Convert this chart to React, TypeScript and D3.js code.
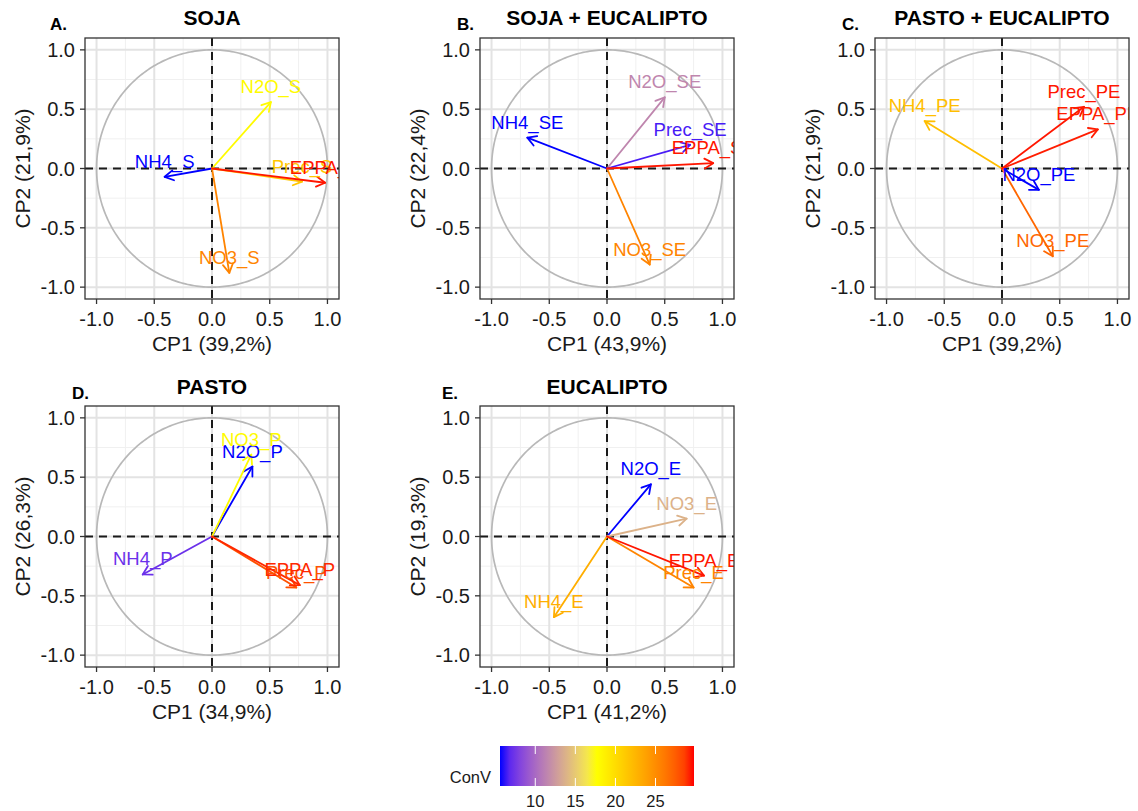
import * as d3 from "d3";

// ConV colour bar
const CONV_DOMAIN = [5.6, 29.8];
const CONV_TICKS = [10, 15, 20, 25];

const TITLES = ["SOJA", "SOJA + EUCALIPTO", "PASTO + EUCALIPTO", "PASTO", "EUCALIPTO"];
const LETTERS = ["A.", "B.", "C.", "D.", "E."];
const CP1_LABELS = ["CP1 (39,2%)", "CP1 (43,9%)", "CP1 (39,2%)", "CP1 (34,9%)", "CP1 (41,2%)"];
const CP2_LABELS = ["CP2 (21,9%)", "CP2 (22,4%)", "CP2 (21,9%)", "CP2 (26,3%)", "CP2 (19,3%)"];
const AXIS_TICKS = [-1, -0.5, 0, 0.5, 1];
const MINOR_TICKS = [-0.75, -0.25, 0.25, 0.75];

// A. soja
const SOJA_VARS = ["N2O_S", "NH4_S", "NO3_S", "Prec_S", "EPPA_S"];
const SOJA_CP1 = [0.51, -0.41, 0.15, 0.78, 0.98];
const SOJA_CP2 = [0.56, -0.07, -0.88, -0.11, -0.12];
const SOJA_CONV = [18.0, 5.6, 25.5, 21.5, 29.6];

// B. soja + eucalipto
const SE_VARS = ["N2O_SE", "NH4_SE", "NO3_SE", "Prec_SE", "EPPA_SE"];
const SE_CP1 = [0.5, -0.69, 0.37, 0.72, 0.92];
const SE_CP2 = [0.6, 0.26, -0.81, 0.2, 0.045];
const SE_CONV = [11.5, 5.6, 25.5, 6.3, 29.6];

// C. pasto + eucalipto
const PE_VARS = ["N2O_PE", "NH4_PE", "NO3_PE", "Prec_PE", "EPPA_PE"];
const PE_CP1 = [0.32, -0.67, 0.44, 0.71, 0.83];
const PE_CP2 = [-0.18, 0.4, -0.74, 0.52, 0.33];
const PE_CONV = [5.6, 22.0, 27.0, 29.6, 29.5];

// D. pasto
const P_VARS = ["N2O_P", "NH4_P", "NO3_P", "Prec_P", "EPPA_P"];
const P_CP1 = [0.35, -0.6, 0.34, 0.73, 0.76];
const P_CP2 = [0.59, -0.32, 0.69, -0.43, -0.41];
const P_CONV = [5.6, 7.2, 18.0, 28.0, 29.3];

// E. eucalipto
const E_VARS = ["N2O_E", "NH4_E", "NO3_E", "Prec_E", "EPPA_E"];
const E_CP1 = [0.38, -0.46, 0.69, 0.75, 0.84];
const E_CP2 = [0.44, -0.68, 0.15, -0.43, -0.33];
const E_CONV = [5.6, 23.0, 13.8, 25.5, 29.6];

const PANEL_DATA = [
  [SOJA_VARS, SOJA_CP1, SOJA_CP2, SOJA_CONV],
  [SE_VARS, SE_CP1, SE_CP2, SE_CONV],
  [PE_VARS, PE_CP1, PE_CP2, PE_CONV],
  [P_VARS, P_CP1, P_CP2, P_CONV],
  [E_VARS, E_CP1, E_CP2, E_CONV],
] as [string[], number[], number[], number[]][];

// layout of each panel (plot area + letter position)
const LAYOUT = [
  { left: 85, top: 38, letterX: 50, titleY: 25, letterY: 30 },
  { left: 480, top: 38, letterX: 457, titleY: 25, letterY: 30 },
  { left: 875, top: 38, letterX: 842, titleY: 25, letterY: 30 },
  { left: 85, top: 406, letterX: 72, titleY: 394, letterY: 399 },
  { left: 480, top: 406, letterX: 442, titleY: 394, letterY: 399 },
];
const PW = 254;
const PH = 261;
const FONT = "'Liberation Sans', Arial, Helvetica, sans-serif";

const colorScale = d3
  .scaleLinear<string>()
  .domain([CONV_DOMAIN[0], (CONV_DOMAIN[0] + CONV_DOMAIN[1]) / 2, CONV_DOMAIN[1]])
  .range(["#0000ff", "#ffff00", "#ff0000"])
  .interpolate(d3.interpolateLab);

const fmt = (t: number) => d3.format(".1f")(t).replace("−", "-");

function arrowHead(x1: number, y1: number, x2: number, y2: number, len = 10) {
  const a = Math.atan2(y2 - y1, x2 - x1);
  const spread = Math.PI / 6;
  const p1 = [x2 - len * Math.cos(a - spread), y2 - len * Math.sin(a - spread)];
  const p2 = [x2 - len * Math.cos(a + spread), y2 - len * Math.sin(a + spread)];
  return `M${p1[0]},${p1[1]}L${x2},${y2}L${p2[0]},${p2[1]}`;
}

function Panel({ i }: { i: number }) {
  const lay = LAYOUT[i];
  const [vars, cp1, cp2, conv] = PANEL_DATA[i];
  const x = d3.scaleLinear().domain([-1.1, 1.1]).range([lay.left, lay.left + PW]);
  const y = d3.scaleLinear().domain([-1.1, 1.1]).range([lay.top + PH, lay.top]);
  const circle = d3
    .line<number>()
    .x((t) => x(Math.cos(t)))
    .y((t) => y(Math.sin(t)))(d3.range(0, 2 * Math.PI + 0.02, 0.02));
  const clipId = `clip-${i}`;
  const cx = x(0);
  const cy = y(0);

  return (
    <g fontFamily={FONT}>
      <defs>
        <clipPath id={clipId}>
          <rect x={lay.left} y={lay.top} width={PW} height={PH} />
        </clipPath>
      </defs>
      <rect x={lay.left} y={lay.top} width={PW} height={PH} fill="#ffffff" />
      {MINOR_TICKS.map((t) => (
        <g key={`mn${t}`} stroke="#f0f0f0" strokeWidth={1}>
          <line x1={x(t)} x2={x(t)} y1={lay.top} y2={lay.top + PH} />
          <line x1={lay.left} x2={lay.left + PW} y1={y(t)} y2={y(t)} />
        </g>
      ))}
      {AXIS_TICKS.map((t) => (
        <g key={`mj${t}`} stroke="#e3e3e3" strokeWidth={2}>
          <line x1={x(t)} x2={x(t)} y1={lay.top} y2={lay.top + PH} />
          <line x1={lay.left} x2={lay.left + PW} y1={y(t)} y2={y(t)} />
        </g>
      ))}
      <g clipPath={`url(#${clipId})`}>
        <path d={circle ?? ""} fill="none" stroke="#b8b8b8" strokeWidth={1.7} />
        <line x1={lay.left} x2={lay.left + PW} y1={cy} y2={cy} stroke="#1a1a1a" strokeWidth={2} strokeDasharray="8,6" />
        <line x1={cx} x2={cx} y1={lay.top} y2={lay.top + PH} stroke="#1a1a1a" strokeWidth={2} strokeDasharray="8,6" />
        {vars.map((v, k) => {
          const tx = x(cp1[k]);
          const ty = y(cp2[k]);
          const c = colorScale(conv[k]);
          return (
            <g key={`a${v}`} stroke={c} strokeWidth={1.8} fill="none" strokeLinecap="round" strokeLinejoin="round">
              <line x1={cx} y1={cy} x2={tx} y2={ty} />
              <path d={arrowHead(cx, cy, tx, ty)} />
            </g>
          );
        })}
        {vars.map((v, k) => (
          <text
            key={`l${v}`}
            x={x(cp1[k])}
            y={y(cp2[k]) - 9}
            textAnchor="middle"
            fontSize={18.5}
            fill={colorScale(conv[k])}
          >
            {v}
          </text>
        ))}
      </g>
      <rect x={lay.left} y={lay.top} width={PW} height={PH} fill="none" stroke="#333333" strokeWidth={1.3} />
      {AXIS_TICKS.map((t) => (
        <g key={`tk${t}`}>
          <line x1={x(t)} x2={x(t)} y1={lay.top + PH} y2={lay.top + PH + 5} stroke="#333333" strokeWidth={1.3} />
          <text x={x(t)} y={lay.top + PH + 27} textAnchor="middle" fontSize={20} fill="#1a1a1a">
            {fmt(t)}
          </text>
          <line x1={lay.left - 5} x2={lay.left} y1={y(t)} y2={y(t)} stroke="#333333" strokeWidth={1.3} />
          <text x={lay.left - 10} y={y(t) + 7} textAnchor="end" fontSize={20} fill="#1a1a1a">
            {fmt(t)}
          </text>
        </g>
      ))}
      <text x={x(0)} y={lay.top + PH + 52} textAnchor="middle" fontSize={21} fill="#1a1a1a">
        {CP1_LABELS[i]}
      </text>
      <text
        transform={`translate(${lay.left - 55},${y(0)}) rotate(-90)`}
        textAnchor="middle"
        fontSize={21}
        fill="#1a1a1a"
      >
        {CP2_LABELS[i]}
      </text>
      <text x={x(0)} y={lay.titleY} textAnchor="middle" fontSize={21} fontWeight="bold" fill="#000">
        {TITLES[i]}
      </text>
      <text x={lay.letterX} y={lay.letterY} fontSize={17} fontWeight="bold" fill="#000">
        {LETTERS[i]}
      </text>
    </g>
  );
}

function Legend() {
  const bx = d3.scaleLinear().domain(CONV_DOMAIN).range([500, 694]);
  const top = 746;
  const h = 40;
  const stops = d3.range(0, 1.0001, 0.05);
  return (
    <g fontFamily={FONT}>
      <defs>
        <linearGradient id="conv-grad" x1="0" x2="1" y1="0" y2="0">
          {stops.map((s) => (
            <stop
              key={s}
              offset={`${s * 100}%`}
              stopColor={colorScale(CONV_DOMAIN[0] + s * (CONV_DOMAIN[1] - CONV_DOMAIN[0]))}
            />
          ))}
        </linearGradient>
      </defs>
      <rect x={bx(CONV_DOMAIN[0])} y={top} width={bx(CONV_DOMAIN[1]) - bx(CONV_DOMAIN[0])} height={h} fill="url(#conv-grad)" />
      {CONV_TICKS.map((t) => (
        <g key={t}>
          <line x1={bx(t)} x2={bx(t)} y1={top} y2={top + 8} stroke="#ffffff" strokeWidth={1} />
          <line x1={bx(t)} x2={bx(t)} y1={top + h - 8} y2={top + h} stroke="#ffffff" strokeWidth={1} />
          <text x={bx(t)} y={top + h + 21} textAnchor="middle" fontSize={16.5} fill="#1a1a1a">
            {t}
          </text>
        </g>
      ))}
      <text x={491} y={top + h - 3} textAnchor="end" fontSize={16.5} fill="#1a1a1a">
        ConV
      </text>
    </g>
  );
}

export default function App() {
  return (
    <svg
      width={1138}
      height={811}
      viewBox="0 0 1138 811"
      style={{ position: "absolute", left: 0, top: 0, background: "#ffffff" }}
    >
      <rect width={1138} height={811} fill="#ffffff" />
      {PANEL_DATA.map((_, i) => (
        <Panel key={i} i={i} />
      ))}
      <Legend />
    </svg>
  );
}
